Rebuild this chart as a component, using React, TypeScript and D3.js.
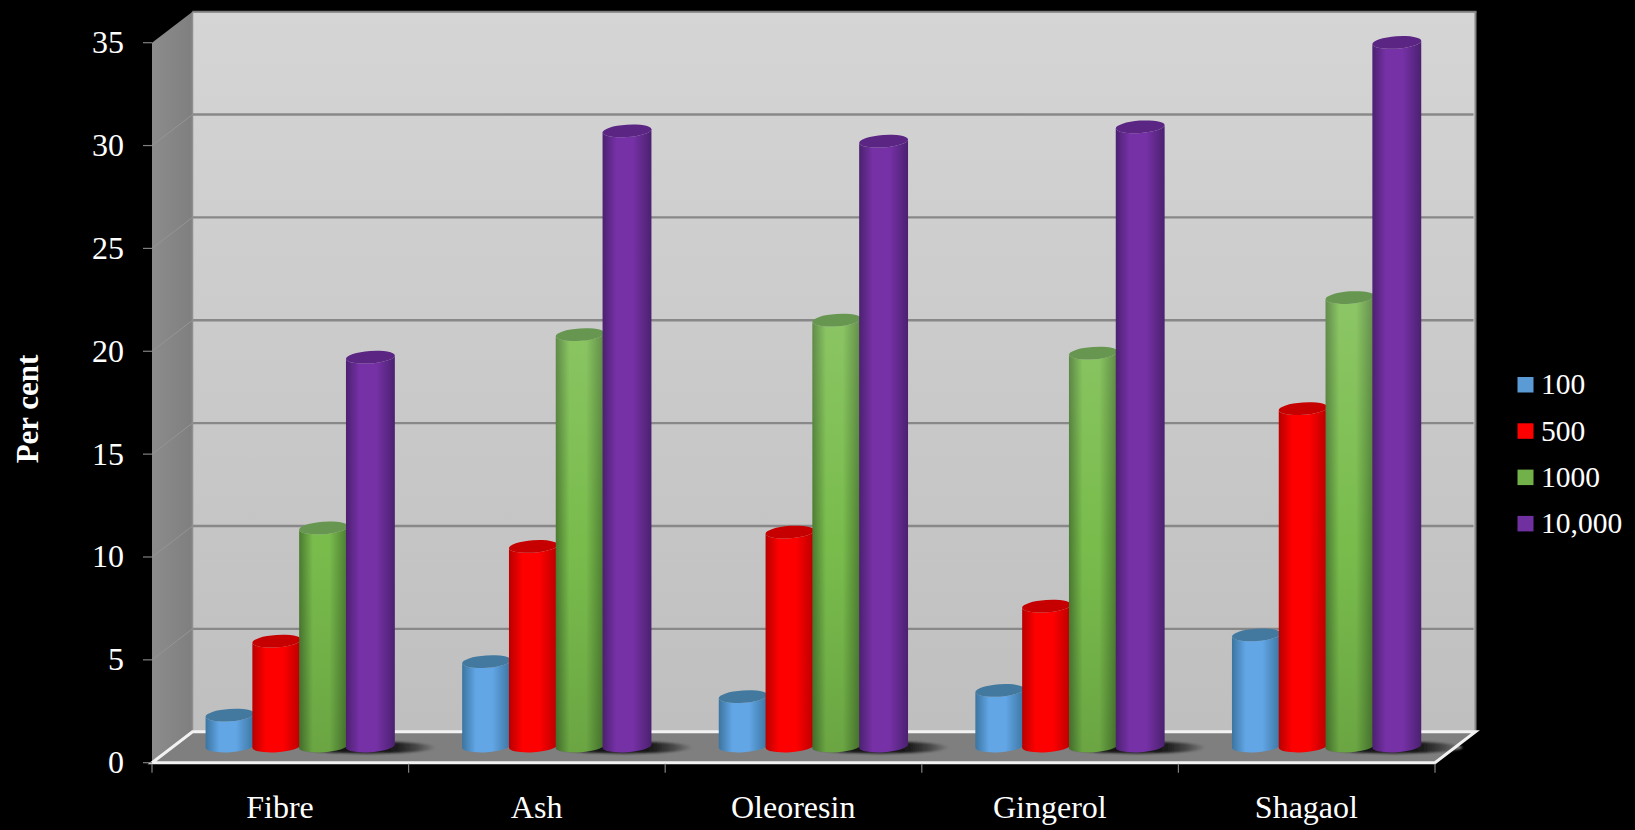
import React from "react";
import * as d3 from "d3";

const categories = ["Fibre", "Ash", "Oleoresin", "Gingerol", "Shagaol"];
const seriesNames = ["100", "500", "1000", "10,000"];
const values100 = [1.5, 4.1, 2.4, 2.7, 5.4];
const values500 = [5.1, 9.7, 10.4, 6.8, 16.4];
const values1000 = [10.6, 20.0, 20.7, 19.1, 21.8];
const values10000 = [18.9, 29.9, 29.4, 30.1, 34.2];
const seriesValues = [values100, values500, values1000, values10000];
const yTicks = [0, 5, 10, 15, 20, 25, 30, 35];

const W = 1635;
const H = 830;
const FONT = "'Liberation Serif', 'Times New Roman', serif";

// Oblique projection of the chart box
const frontLeft = 152;
const frontRight = 1435;
const depthX = 40.5;
const depthY = -31;
const barLift = -16.7; // bars stand halfway into the floor depth
const barWidth = 49;
const ry = 6.2;
const tilt = -4;

const y = d3.scaleLinear().domain([0, 35]).range([762.7, 42.7]);
const xCat = d3.scaleBand<string>().domain(categories).range([frontLeft, frontRight]);
const xSeries = d3.scaleBand<string>().domain(seriesNames).range([54.6, 241.8]);

const palette = [
  { id: "b", edge: "#3b749f", mid: "#62a6e6", cap: "#43799f", swatch: "#5b9bd5" },
  { id: "r", edge: "#b80000", mid: "#ff0000", cap: "#c60000", swatch: "#ff0000" },
  { id: "g", edge: "#4a7a30", mid: "#79bc4c", cap: "#669650", swatch: "#72b04a" },
  { id: "p", edge: "#4b2170", mid: "#7631a6", cap: "#5a2583", swatch: "#7030a0" },
];

function cylinderBody(cx: number, top: number, base: number) {
  const r = barWidth / 2;
  const a = (tilt * Math.PI) / 180;
  const dx = r * Math.cos(a);
  const dy = r * Math.sin(a);
  const lower = `A${r} ${ry} ${tilt} 0 0 ${cx + dx} ${base + dy}`;
  const upper = `A${r} ${ry} ${tilt} 0 1 ${cx - dx} ${top - dy}`;
  return `M${cx - dx} ${top - dy}L${cx - dx} ${base - dy}${lower}L${cx + dx} ${top + dy}${upper}Z`;
}

// Soft cast shadows lying on the floor, behind the cylinders
function Shadows() {
  return (
    <g>
      {categories.map((cat) => (
        <ellipse
          key={cat}
          cx={xCat(cat)! + 216}
          cy={y(0) + barLift + 1.5}
          rx={68}
          ry={6}
          fill="url(#shadowFade)"
          filter="url(#shadowBlur)"
        />
      ))}
    </g>
  );
}

function Bars() {
  return (
    <g>
      {categories.map((cat, ci) => {
        const groupLeft = xCat(cat)!;
        return (
          <g key={cat}>
            {seriesNames.map((s, si) => {
              const cx = groupLeft + xSeries(s)! + xSeries.bandwidth() / 2;
              const base = y(0) + barLift;
              const top = y(seriesValues[si][ci]) + barLift;
              const body = cylinderBody(cx, top, base);
              const pal = palette[si];
              return (
                <g key={s}>
                  <path d={body} fill={`url(#body-${pal.id})`} />
                  {pal.id === "g" && <path d={body} fill="url(#greenTone)" />}
                  <ellipse
                    cx={cx}
                    cy={top}
                    rx={barWidth / 2}
                    ry={ry}
                    transform={`rotate(${tilt} ${cx} ${top})`}
                    fill={pal.cap}
                  />
                </g>
              );
            })}
          </g>
        );
      })}
    </g>
  );
}

export default function App() {
  const y0 = y(0);
  const yMax = y(35);
  const backL = frontLeft + depthX;
  const backR = frontRight + depthX;
  const wall = `M${backL} ${yMax + depthY}L${backR} ${yMax + depthY}L${backR} ${y0 + depthY}L${backL} ${y0 + depthY}Z`;
  const side = `M${frontLeft} ${yMax}L${backL} ${yMax + depthY}L${backL} ${y0 + depthY}L${frontLeft} ${y0}Z`;
  const floor = `M${frontLeft} ${y0}L${backL} ${y0 + depthY}L${backR} ${y0 + depthY}L${frontRight} ${y0}Z`;
  const catTicks = [...categories.map((c) => xCat(c)!), frontRight];

  return (
    <svg
      width={W}
      height={H}
      viewBox={`0 0 ${W} ${H}`}
      style={{ position: "fixed", left: 0, top: 0, background: "#000", display: "block" }}
      fontFamily={FONT}
    >
      <defs>
        <linearGradient id="wallFill" x1="0" x2="0" y1="0" y2="1">
          <stop offset="0" stopColor="#d5d5d5" />
          <stop offset="1" stopColor="#bfbfbf" />
        </linearGradient>
        <linearGradient id="sideFill" x1="0" x2="1" y1="0" y2="0">
          <stop offset="0" stopColor="#8c8c8c" />
          <stop offset="1" stopColor="#7f7f7f" />
        </linearGradient>
        <linearGradient id="shadowFade" x1="0" x2="1" y1="0" y2="0">
          <stop offset="0" stopColor="#101010" />
          <stop offset="0.7" stopColor="#1a1a1a" />
          <stop offset="0.86" stopColor="#484848" />
          <stop offset="1" stopColor="#7f7f7f" />
        </linearGradient>
        <filter id="shadowBlur" x="-10%" y="-60%" width="120%" height="220%">
          <feGaussianBlur stdDeviation="1.3" />
        </filter>
        <linearGradient id="greenTone" gradientUnits="userSpaceOnUse" x1="0" x2="0" y1="290" y2="750">
          <stop offset="0" stopColor="#ffffff" stopOpacity="0.15" />
          <stop offset="0.55" stopColor="#ffffff" stopOpacity="0" />
          <stop offset="0.56" stopColor="#000000" stopOpacity="0" />
          <stop offset="1" stopColor="#000000" stopOpacity="0.12" />
        </linearGradient>
        {palette.map((p) => (
          <linearGradient key={p.id} id={`body-${p.id}`} x1="0" x2="1" y1="0" y2="0">
            <stop offset="0" stopColor={p.edge} />
            <stop offset="0.28" stopColor={p.mid} />
            <stop offset="0.62" stopColor={p.mid} />
            <stop offset="1" stopColor={p.edge} />
          </linearGradient>
        ))}
      </defs>

      {/* chart box */}
      <path d={wall} fill="url(#wallFill)" />
      <path d={side} fill="url(#sideFill)" />
      <path d={floor} fill="#7f7f7f" />
      <Shadows />

      {/* gridlines on both walls */}
      {yTicks
        .filter((t) => t > 0 && t < 35)
        .map((t) => (
          <g key={t}>
            <line x1={backL} x2={backR - 2} y1={y(t) + depthY} y2={y(t) + depthY} stroke="#888888" strokeWidth={2.4} />
            <line x1={frontLeft} x2={backL} y1={y(t)} y2={y(t) + depthY} stroke="#959595" strokeWidth={1} />
          </g>
        ))}
      <line x1={backL} x2={backR + 1} y1={yMax + depthY} y2={yMax + depthY} stroke="#7c7c7c" strokeWidth={2} />
      <line x1={backR} x2={backR} y1={yMax + depthY} y2={y0 + depthY} stroke="#858585" strokeWidth={2} />
      <line x1={backL} x2={backL} y1={yMax + depthY} y2={y0 + depthY} stroke="#8f8f8f" strokeWidth={1.5} />

      {/* floor outline */}
      <path
        d={`M${backL} ${y0 + depthY}L${backR} ${y0 + depthY}L${frontRight} ${y0}L${frontLeft} ${y0}Z`}
        fill="none"
        stroke="#f2f2f2"
        strokeWidth={3}
        strokeLinejoin="miter"
      />

      {/* axis ticks */}
      {yTicks.map((t) => (
        <line key={t} x1={143} x2={frontLeft} y1={y(t)} y2={y(t)} stroke="#808080" strokeWidth={1.2} />
      ))}
      {catTicks.map((x, i) => (
        <line key={i} x1={x} x2={x} y1={y0 + 1} y2={y0 + 10} stroke="#808080" strokeWidth={1.2} />
      ))}

      <Bars />

      {/* value axis labels */}
      {yTicks.map((t) => (
        <text key={t} x={124} y={y(t) + 10.5} fill="#fff" fontSize={32} textAnchor="end">
          {t}
        </text>
      ))}
      <text
        transform="translate(38,409) rotate(-90)"
        fill="#fff"
        fontSize={31}
        fontWeight="bold"
        textAnchor="middle"
      >
        Per cent
      </text>

      {/* category labels */}
      {categories.map((c) => (
        <text key={c} x={xCat(c)! + xCat.bandwidth() / 2 - 0.3} y={818} fill="#fff" fontSize={32} textAnchor="middle">
          {c}
        </text>
      ))}

      {/* legend */}
      {seriesNames.map((s, i) => {
        const ly = 377 + i * 46.3;
        return (
          <g key={s}>
            <rect x={1517.5} y={ly} width={16} height={15.5} fill={palette[i].swatch} />
            <text x={1541} y={ly + 17.2} fill="#fff" fontSize={29.5}>
              {s}
            </text>
          </g>
        );
      })}
    </svg>
  );
}
